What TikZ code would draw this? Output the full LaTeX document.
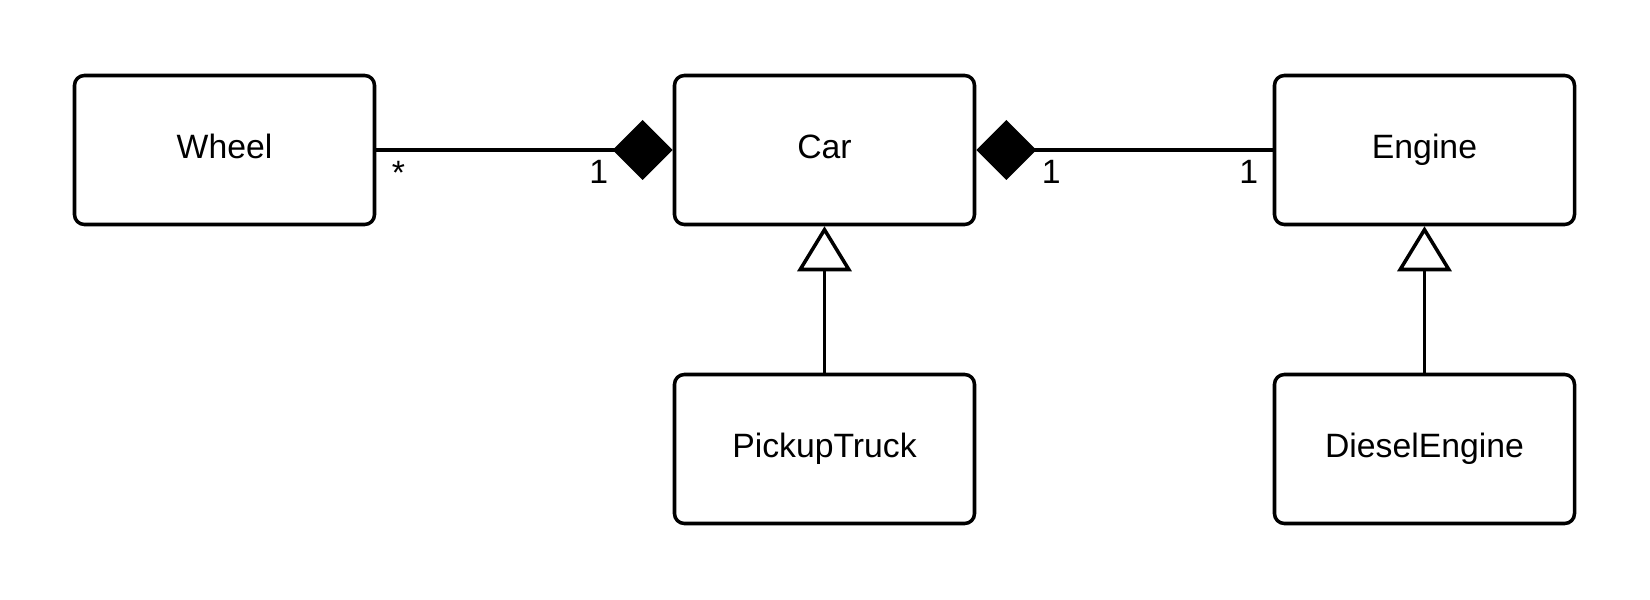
\documentclass[tikz,border=0pt]{standalone}
\usepackage{fontspec}
\setmainfont{Liberation Sans}
\usetikzlibrary{arrows.meta,positioning}

\begin{document}
\begin{tikzpicture}[
    cls/.style={draw,line width=1pt,rounded corners=2.8pt,minimum width=3cm,minimum height=1.49cm,
      text height=0.72em,text depth=0.26em,font=\fontsize{9.6}{11}\selectfont},
    mult/.style={inner sep=0pt,font=\fontsize{9.6}{11}\selectfont},
    link/.style={line width=1pt},
    comp/.tip={Diamond[length=0.6cm,width=0.6cm,fill=black]},
    inherit/.style={-{Triangle[open,length=0.45cm,width=0.54cm]}}
  ]
  \useasboundingbox (0,0) rectangle (16.5,6);
  % classes
  \node[cls] (wheel) at (2.245,4.5) {Wheel};
  \node[cls] (car) at (8.245,4.5) {Car};
  \node[cls] (engine) at (14.245,4.5) {Engine};
  \node[cls] (pickup) at (8.245,1.51) {PickupTruck};
  \node[cls] (diesel) at (14.245,1.51) {DieselEngine};

  % composition
  \draw[link,-comp] (wheel) -- (car);
  \draw[link,comp-] (car) -- (engine);

  % multiplicities
  \node[mult,below right=0.11cm and 0.15cm of wheel.east] (mwheel) {*};
  \node[mult,below left=0.10cm and 0.64cm of car.west] (mcarl) {1};
  \node[mult,below right=0.10cm and 0.65cm of car.east] (mcarr) {1};
  \node[mult,below left=0.10cm and 0.14cm of engine.west] (mengine) {1};

  % inheritance
  \draw[link,inherit] (pickup) -- (car);
  \draw[link,inherit] (diesel) -- (engine);
\end{tikzpicture}
\end{document}
